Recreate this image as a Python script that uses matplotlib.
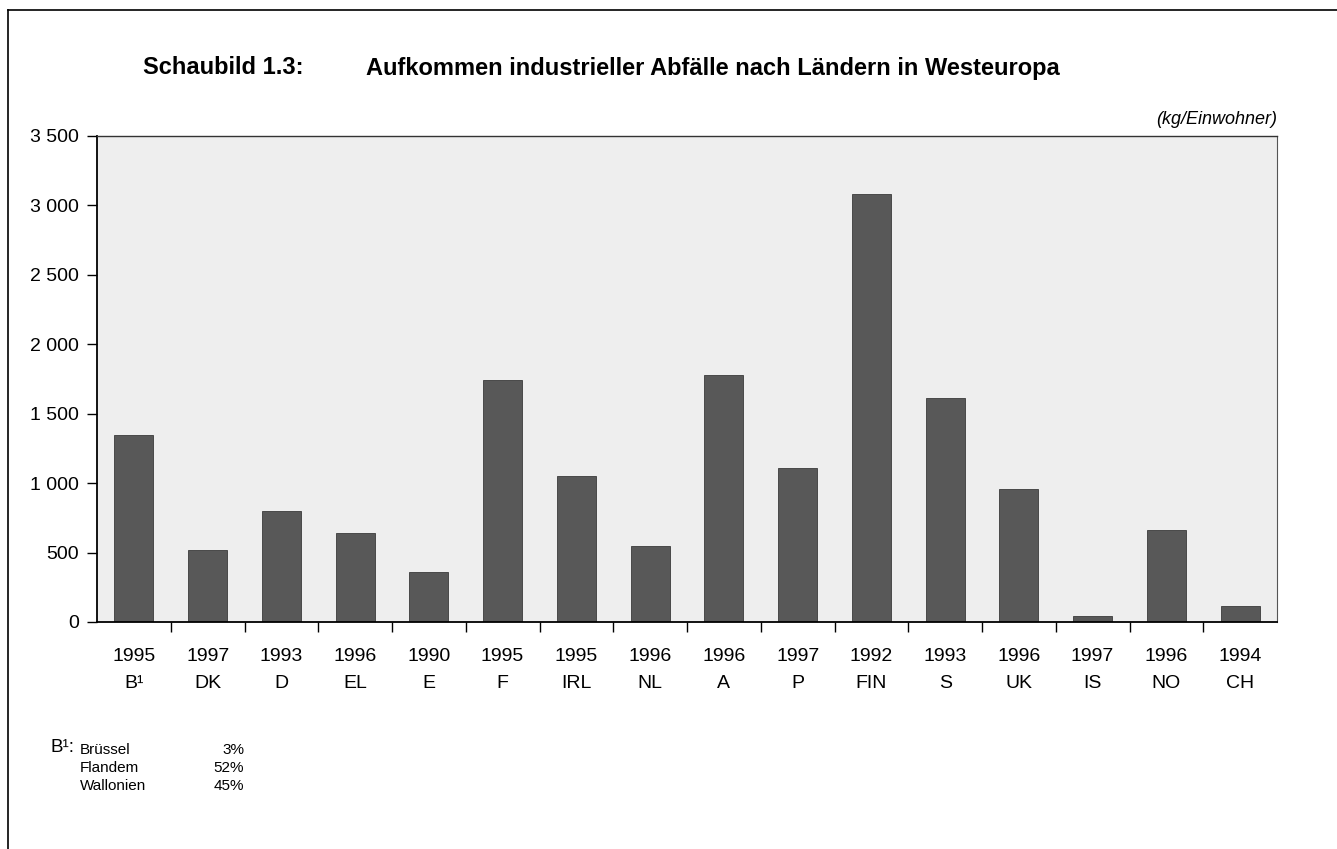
import matplotlib
matplotlib.use("Agg")
import matplotlib.pyplot as plt
from matplotlib.lines import Line2D

plt.rcParams['font.family'] = ['Liberation Sans', 'DejaVu Sans']

countries = ["B¹", "DK", "D", "EL", "E", "F", "IRL", "NL", "A", "P", "FIN", "S", "UK", "IS", "NO", "CH"]
years = ["1995", "1997", "1993", "1996", "1990", "1995", "1995", "1996", "1996", "1997", "1992", "1993", "1996", "1997", "1996", "1994"]
values = [1350, 515, 800, 640, 360, 1745, 1050, 545, 1780, 1110, 3080, 1615, 955, 40, 660, 115]
yticks = [0, 500, 1000, 1500, 2000, 2500, 3000, 3500]
ytick_labels = ["0", "500", "1 000", "1 500", "2 000", "2 500", "3 000", "3 500"]
footnote_regions = ["Brüssel", "Flandem", "Wallonien"]
footnote_shares = ["3%", "52%", "45%"]

W, H = 1337, 849
fig = plt.figure(figsize=(W / 100, H / 100), dpi=100)
ax = fig.add_axes([97 / W, 1 - 622 / H, (1277 - 97) / W, (622 - 136) / H])
ax.set_facecolor('#eeeeee')

x = list(range(len(values)))
ax.bar(x, values, width=0.53, color='#585858', edgecolor='#3a3a3a', linewidth=0.6, zorder=2)

ax.set_xlim(-0.5, len(values) - 0.5)
ax.set_ylim(0, 3500)
ax.set_yticks(yticks)
ax.set_yticklabels(ytick_labels, fontsize=14)
ax.set_xticks(x)
ax.set_xticklabels([f"{y}\n{c}" for y, c in zip(years, countries)], fontsize=14, linespacing=1.75)
ax.set_xticks([i + 0.5 for i in x[:-1]], minor=True)
ax.tick_params(axis='x', which='major', length=0, pad=19)
ax.tick_params(axis='x', which='minor', length=7, width=1, direction='out')
ax.tick_params(axis='y', which='major', length=7, width=1, direction='out', pad=6)

for s in ['left', 'bottom']:
    ax.spines[s].set_linewidth(1.3)
    ax.spines[s].set_color('black')
ax.spines['top'].set_linewidth(1.0)
ax.spines['top'].set_color('#333333')
ax.spines['right'].set_linewidth(0.8)
ax.spines['right'].set_color('#555555')

# Title
fig.text(143 / W, 1 - 68 / H, "Schaubild 1.3:", fontsize=17, fontweight='bold', va='center', ha='left')
fig.text(366 / W, 1 - 68 / H, "Aufkommen industrieller Abfälle nach Ländern in Westeuropa",
         fontsize=17, fontweight='bold', va='center', ha='left')

# Unit
fig.text(1277 / W, 1 - 119 / H, "(kg/Einwohner)", fontsize=13, style='italic', ha='right', va='center')

# Footnote
fig.text(50 / W, 1 - 747 / H, "B¹:", fontsize=13.5, ha='left', va='center')
for i, (r, s) in enumerate(zip(footnote_regions, footnote_shares)):
    yy = 1 - (750 + i * 18) / H
    fig.text(80 / W, yy, r, fontsize=11, ha='left', va='center')
    fig.text(244 / W, yy, s, fontsize=11, ha='right', va='center')

# Outer frame lines (top and left)
fig.add_artist(Line2D([8 / W, 1.0], [1 - 10 / H, 1 - 10 / H], transform=fig.transFigure, color='black', linewidth=1.2))
fig.add_artist(Line2D([8 / W, 8 / W], [1 - 10 / H, 0.0], transform=fig.transFigure, color='black', linewidth=1.2))

fig.savefig("out.png", dpi=100)
